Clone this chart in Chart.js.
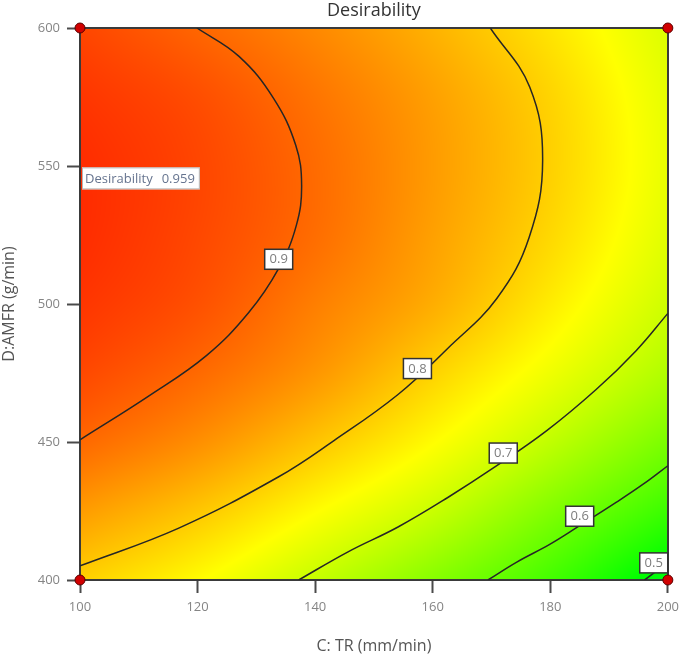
<!DOCTYPE html>
<html>
<head>
<meta charset="utf-8">
<title>Desirability</title>
<script src="https://cdn.jsdelivr.net/npm/chart.js@4.4.1/dist/chart.umd.min.js"></script>
<style>
  html, body { margin: 0; padding: 0; background: #fff; }
  #wrap { width: 685px; height: 656px; }
</style>
</head>
<body>
<div id="wrap"><canvas id="desirability"></canvas></div>
<script>
// axis ticks
const trTicks = [100, 120, 140, 160, 180, 200];   // C: TR (mm/min)
const amfrTicks = [400, 450, 500, 550, 600];      // D:AMFR (g/min)

// desirability (rows = AMFR, cols = TR)
const gridTR = [100, 120, 140, 160, 180, 200];
const gridAMFR = [400, 425, 450, 475, 500, 525, 550, 575, 600];
const gridD = [
  [0.796, 0.752, 0.694, 0.632, 0.565, 0.478],
  [0.848, 0.806, 0.752, 0.697, 0.627, 0.557],
  [0.898, 0.860, 0.808, 0.752, 0.688, 0.620],
  [0.930, 0.897, 0.853, 0.794, 0.735, 0.672],
  [0.948, 0.921, 0.876, 0.830, 0.768, 0.702],
  [0.957, 0.930, 0.893, 0.843, 0.788, 0.720],
  [0.957, 0.932, 0.895, 0.848, 0.796, 0.728],
  [0.948, 0.924, 0.886, 0.843, 0.792, 0.725],
  [0.932, 0.900, 0.866, 0.825, 0.775, 0.715]
];

// contour lines as [TR, AMFR] pairs
const contour09 = [[119.9, 600], [127.0, 589.8], [132.9, 574.6], [136.7, 557.5], [137.7, 543.0], [136.8, 528.5],
  [133.8, 512.9], [128.7, 496.9], [121.5, 481.3], [111.8, 466.8], [100, 450.8]];
const contour08 = [[169.8, 600], [176.5, 578.6], [178.7, 552.1], [176.4, 524.1], [170.9, 502.0], [162.5, 483.8],
  [154.1, 467.2], [143.2, 450.5], [133.8, 437.4], [116.9, 418.9], [100, 405.1]];
const contour07 = [[137.2, 400], [145.6, 410.2], [154.1, 419.2], [162.5, 429.8], [170.9, 441.4], [179.4, 454.1],
  [187.8, 469.0], [194.6, 483.1], [200, 496.6]];
const contour06 = [[169.4, 400], [174.3, 406.5], [179.9, 412.9], [184.8, 419.4], [191.2, 428.1], [195.8, 434.7], [200, 441.4]];
const contour05 = [[196, 400], [197.7, 402.7], [200, 406.5]];

const contourLevels = [0.9, 0.8, 0.7, 0.6, 0.5];
const contourLabelTR = [133.8, 157.4, 172.0, 185.0, 197.6];
const contourLabelAMFR = [516.2, 476.6, 446.0, 423.1, 406.2];

// design points
const designTR = [100, 200, 100, 200];
const designAMFR = [600, 600, 400, 400];

// flag
const flagTR = 100;
const flagAMFR = 549.5;
const flagD = 0.959;

// ---- helpers ----
function cell(i, j) {
  const nr = gridAMFR.length, nc = gridTR.length;
  if (j < 0) return 2 * cell(i, 0) - cell(i, 1);
  if (j > nc - 1) return 2 * cell(i, nc - 1) - cell(i, nc - 2);
  if (i < 0) return 2 * cell(0, j) - cell(1, j);
  if (i > nr - 1) return 2 * cell(nr - 1, j) - cell(nr - 2, j);
  return gridD[i][j];
}

function cr(p0, p1, p2, p3, t) {
  return 0.5 * (2 * p1 + (-p0 + p2) * t + (2 * p0 - 5 * p1 + 4 * p2 - p3) * t * t + (-p0 + 3 * p1 - 3 * p2 + p3) * t * t * t);
}

function locate(arr, v) {
  let k = 0;
  while (k < arr.length - 2 && v > arr[k + 1]) k++;
  return [k, (v - arr[k]) / (arr[k + 1] - arr[k])];
}

function valueAt(tr, amfr) {
  const [j, tx] = locate(gridTR, tr);
  const [i, ty] = locate(gridAMFR, amfr);
  const rows = [];
  for (let r = i - 1; r <= i + 2; r++) {
    rows.push(cr(cell(r, j - 1), cell(r, j), cell(r, j + 1), cell(r, j + 2), tx));
  }
  return cr(rows[0], rows[1], rows[2], rows[3], ty);
}

function colorFor(v) {
  const hue = Math.max(0, Math.min(240, 240 * (1 - v)));
  const hp = hue / 60;
  const c = 1 - Math.abs((hp % 2) - 1);
  let rgb;
  if (hp < 1) rgb = [1, c, 0];
  else if (hp < 2) rgb = [c, 1, 0];
  else if (hp < 3) rgb = [0, 1, c];
  else rgb = [0, c, 1];
  return rgb.map(k => Math.round(k * 255));
}

// background colour map + frame
const heatmap = {
  id: 'heatmap',
  beforeDatasetsDraw(chart) {
    const { ctx, chartArea: a, scales: { x, y } } = chart;
    const w = Math.round(a.right - a.left), h = Math.round(a.bottom - a.top);
    const off = document.createElement('canvas');
    off.width = w; off.height = h;
    const octx = off.getContext('2d');
    const img = octx.createImageData(w, h);
    for (let py = 0; py < h; py++) {
      const amfr = y.getValueForPixel(a.top + py + 0.5);
      for (let px = 0; px < w; px++) {
        const tr = x.getValueForPixel(a.left + px + 0.5);
        const col = colorFor(valueAt(tr, amfr));
        const k = (py * w + px) * 4;
        img.data[k] = col[0]; img.data[k + 1] = col[1]; img.data[k + 2] = col[2]; img.data[k + 3] = 255;
      }
    }
    octx.putImageData(img, 0, 0);
    ctx.save();
    ctx.drawImage(off, a.left, a.top, w, h);
    ctx.strokeStyle = '#3a3a3a';
    ctx.lineWidth = 2;
    ctx.strokeRect(a.left, a.top, w, h);
    ctx.restore();
  }
};

// contour labels and desirability flag
const labels = {
  id: 'labels',
  afterDatasetsDraw(chart) {
    const { ctx, scales: { x, y } } = chart;
    ctx.save();
    ctx.font = '13px "Open Sans"';
    ctx.textAlign = 'center';
    ctx.textBaseline = 'middle';
    contourLevels.forEach((lv, i) => {
      const cx = x.getPixelForValue(contourLabelTR[i]);
      const cy = y.getPixelForValue(contourLabelAMFR[i]);
      ctx.fillStyle = '#fff';
      ctx.fillRect(cx - 14, cy - 10, 28, 20);
      ctx.strokeStyle = '#333';
      ctx.lineWidth = 1.5;
      ctx.strokeRect(cx - 14, cy - 10, 28, 20);
      ctx.fillStyle = '#7d7d7d';
      ctx.fillText(String(lv), cx, cy + 0.5);
    });

    const fx = x.getPixelForValue(flagTR) + 2;
    const fy = y.getPixelForValue(flagAMFR);
    const t1 = 'Desirability', t2 = flagD.toFixed(3);
    const w1 = ctx.measureText(t1).width, w2 = ctx.measureText(t2).width;
    const bw = 3 + w1 + 9 + w2 + 5;
    ctx.fillStyle = '#fff';
    ctx.fillRect(fx, fy, bw, 22);
    ctx.strokeStyle = '#b5b5b5';
    ctx.lineWidth = 1;
    ctx.strokeRect(fx + 0.5, fy + 0.5, bw - 1, 21);
    ctx.fillStyle = '#66748f';
    ctx.textAlign = 'left';
    ctx.fillText(t1, fx + 3, fy + 11.5);
    ctx.fillText(t2, fx + 3 + w1 + 9, fy + 11.5);
    ctx.restore();
  }
};

const contours = [contour09, contour08, contour07, contour06, contour05];
const datasets = [{
  label: 'Design points',
  data: designTR.map((v, i) => ({ x: v, y: designAMFR[i] })),
  showLine: false,
  pointRadius: 5,
  pointBackgroundColor: '#d10000',
  pointBorderColor: '#5a0000',
  pointBorderWidth: 1,
  clip: false,
  order: 0
}];
contours.forEach((c, i) => {
  datasets.push({
    label: 'D = ' + contourLevels[i],
    data: c.map(p => ({ x: p[0], y: p[1] })),
    showLine: true,
    borderColor: '#262626',
    borderWidth: 1.5,
    pointRadius: 0,
    tension: 0.4,
    fill: false,
    order: 1
  });
});

new Chart(document.getElementById('desirability'), {
  type: 'scatter',
  data: { datasets: datasets },
  options: {
    responsive: true,
    maintainAspectRatio: false,
    animation: false,
    events: [],
    layout: { padding: { top: 0, right: 13, bottom: 0, left: 0 } },
    plugins: {
      legend: { display: false },
      tooltip: { enabled: false },
      title: {
        display: true,
        text: 'Desirability',
        fullSize: false,
        color: '#333',
        font: { family: 'Open Sans', size: 18, weight: 'normal' },
        padding: { top: 0, bottom: 6.4 }
      }
    },
    scales: {
      x: {
        type: 'linear',
        min: 100,
        max: 200,
        afterBuildTicks: s => { s.ticks = trTicks.map(v => ({ value: v })); },
        afterFit: s => { s.height = 76; },
        grid: { drawOnChartArea: false, drawTicks: true, tickLength: 13, tickColor: '#4a4a4a', tickWidth: 2 },
        border: { display: true, color: '#3a3a3a', width: 2 },
        ticks: { color: '#858585', font: { family: 'Open Sans', size: 13 }, padding: 6, maxRotation: 0 },
        title: {
          display: true,
          text: 'C: TR (mm/min)',
          color: '#555',
          font: { family: 'Open Sans', size: 16 },
          padding: { top: 0, bottom: 0 }
        }
      },
      y: {
        type: 'linear',
        min: 400,
        max: 600,
        afterBuildTicks: s => { s.ticks = amfrTicks.map(v => ({ value: v })); },
        afterFit: s => { s.width = 80; },
        grid: { drawOnChartArea: false, drawTicks: true, tickLength: 13, tickColor: '#4a4a4a', tickWidth: 2 },
        border: { display: true, color: '#3a3a3a', width: 2 },
        ticks: { color: '#858585', font: { family: 'Open Sans', size: 13 }, padding: 7 },
        title: {
          display: true,
          text: 'D:AMFR (g/min)',
          color: '#555',
          font: { family: 'Open Sans', size: 16 },
          padding: { top: 0, bottom: 0 }
        }
      }
    }
  },
  plugins: [heatmap, labels]
});
</script>
</body>
</html>
